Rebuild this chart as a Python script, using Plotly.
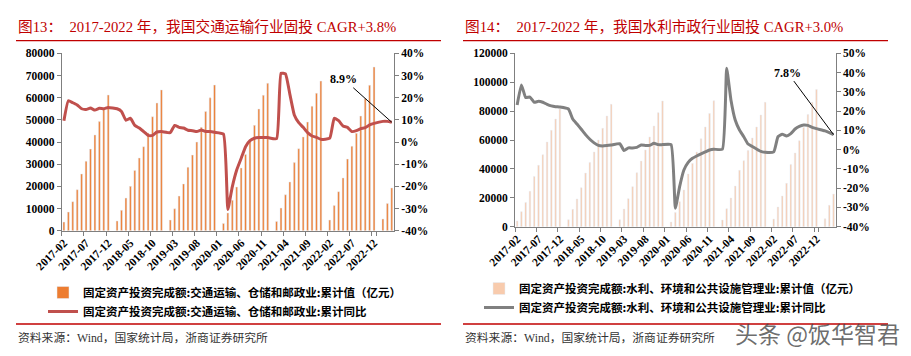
import plotly.graph_objects as go

# ---------------- data ----------------
months = []
for yr in range(2017, 2024):
    for m in range(1, 13):
        if (yr == 2017 and m < 2) or (yr == 2023 and m > 4):
            continue
        months.append(f"{yr}-{m:02d}")

x_tick_labels = ["2017-02", "2017-07", "2017-12", "2018-05", "2018-10", "2019-03",
                 "2019-08", "2020-01", "2020-06", "2020-11", "2021-04", "2021-09",
                 "2022-02", "2022-07", "2022-12"]

# Chart 13: transport, storage & postal FAI
transport_cum = (
    [3900, 8400, 13100, 18500, 25600, 31300, 36800, 43200, 49200, 54900, 61200]
    + [None, 4400, 9200, 14700, 20000, 27200, 32800, 37900, 44100, 51400, 57600, 63500]
    + [None, 4800, 9900, 15600, 21100, 28600, 34100, 40000, 46600, 53800, 59900, 65700]
    + [None, 3300, 8000, 13700, 19700, 28300, 34400, 40600, 47500, 54900, 61100, 66500]
    + [None, 4200, 10200, 16200, 22000, 30700, 37000, 42300, 49000, 56100, 62000, 67500]
    + [None, 4800, 11400, 17600, 23800, 32300, 38100, 43900, 51700, 59600, 65600, 73800]
    + [None, 5300, 12300, 19300]
)
transport_yoy = (
    [9.6, 18.6, 17.7, 16.7, 15.0, 14.7, 15.3, 14.4, 15.2, 15.0, 15.6]
    + [None, 15.0, 13.8, 9.8, 10.7, 7.5, 6.3, 4.7, 3.0, 3.0, 4.5, 4.7]
    + [None, 4.2, 7.5, 6.6, 6.3, 5.3, 5.1, 4.7, 5.4, 4.7, 4.7, 4.4]
    + [None, 3.6, -30.4, -20.2, -12.6, -7.4, -2.1, 0.6, 1.7, 2.0, 2.0, 2.0]
    + [None, 1.5, 31.0, 30.7, 21.5, 12.2, 8.7, 6.6, 4.2, 2.7, 2.1, 1.2]
    + [None, 1.7, 10.7, 9.6, 7.2, 6.6, 4.7, 5.1, 6.0, 6.5, 7.7, 8.4]
    + [None, 9.3, 9.3, 8.9]
)

# Chart 14: water conservancy, environment & public facilities FAI
water_cum = (
    [3900, 10400, 16800, 24500, 34800, 42500, 49800, 58600, 66700, 74500, 81400]
    + [None, 4800, 12000, 19200, 27000, 37100, 44500, 51700, 60000, 68100, 76600, 84700]
    + [None, 4800, 12200, 19400, 27700, 37400, 45400, 53100, 62100, 69700, 78900, 87000]
    + [None, 3200, 9900, 17300, 25400, 36500, 43800, 51700, 60900, 69000, 78400, 87200]
    + [None, 4600, 12500, 19800, 28100, 39000, 45700, 52800, 61400, 69000, 77300, 86100]
    + [None, 5300, 13600, 21200, 30000, 43100, 51000, 59500, 68700, 77700, 86100, 95000]
    + [None, 5500, 14800, 22600]
)
water_yoy = (
    [23.2, 33.6, 27.0, 27.3, 24.6, 25.1, 24.6, 23.5, 22.7, 22.3, 22.1]
    + [None, 21.1, 15.9, 13.3, 10.6, 7.8, 5.4, 3.5, 2.2, 1.9, 2.1, 2.4]
    + [None, 3.1, -0.5, 0.9, 0.9, 1.2, 2.4, 2.2, 2.2, 3.3, 2.6, 2.6]
    + [None, 2.6, -30.4, -19.2, -10.6, -6.6, -4.5, -3.3, -2.2, -1.2, -0.2, 0.2]
    + [None, 0.2, 42.2, 25.8, 15.4, 10.2, 6.7, 2.9, 1.6, 0.3, -0.9, -1.4]
    + [None, -1.2, 6.7, 8.0, 7.1, 8.3, 10.7, 12.1, 12.8, 12.6, 11.6, 10.9]
    + [None, 9.7, 8.8, 7.8]
)

left_pct_ticks = [-40, -30, -20, -10, 0, 10, 20, 30, 40]
left_pct_text = ["-40%", "-30%", "-20%", "-10%", "0%", "10%", "20%", "30%", "40%"]
right_pct_ticks = [-40, -30, -20, -10, 0, 10, 20, 30, 40, 50]
right_pct_text = ["-40%", "-30%", "-20%", "-10%", "0%", "10%", "20%", "30%", "40%", "50%"]

title_left = "图13：  2017-2022 年，我国交通运输行业固投 CAGR+3.8%"
title_right = "图14：  2017-2022 年，我国水利市政行业固投 CAGR+3.0%"
source_text = "资料来源：Wind，国家统计局，浙商证券研究所"
name_bar_left = "固定资产投资完成额:交通运输、仓储和邮政业:累计值（亿元）"
name_line_left = "固定资产投资完成额:交通运输、仓储和邮政业:累计同比"
name_bar_right = "固定资产投资完成额:水利、环境和公共设施管理业:累计值（亿元）"
name_line_right = "固定资产投资完成额:水利、环境和公共设施管理业:累计同比"
label_left = "8.9%"
label_right = "7.8%"
watermark = "头条 @饭华智君"

# ---------------- styling ----------------
# the page body has an 8px margin; lay out in page pixels and convert
OFF = 8
W, H = 911 - OFF, 356 - OFF
def px(x):
    return (x - OFF) / W
def py(y):
    return 1 - (y - OFF) / H

RED = "#C00000"
AX = "#7F7F7F"
SERIF = "Liberation Serif, Noto Sans CJK SC"
CJK = "Noto Sans CJK SC"
tickfont = dict(family=SERIF, size=11.5, color="black", weight="bold")

fig = go.Figure()
fig.add_trace(go.Bar(x=months, y=transport_cum, name=name_bar_left, marker_color="#ED7D31",
                     width=0.42, xaxis="x", yaxis="y", legend="legend"))
fig.add_trace(go.Scatter(x=months, y=transport_yoy, name=name_line_left, mode="lines",
                         line=dict(color="#C0504D", width=3, shape="spline", smoothing=0.4),
                         connectgaps=True, xaxis="x", yaxis="y2", legend="legend"))
fig.add_trace(go.Bar(x=months, y=water_cum, name=name_bar_right, marker_color="#F8CBAD",
                     width=0.36, xaxis="x2", yaxis="y3", legend="legend2"))
fig.add_trace(go.Scatter(x=months, y=water_yoy, name=name_line_right, mode="lines",
                         line=dict(color="#808080", width=3, shape="spline", smoothing=0.4),
                         connectgaps=True, xaxis="x2", yaxis="y4", legend="legend2"))

def xax(domain, anchor):
    return dict(domain=domain, anchor=anchor, type="category", range=[-0.5, len(months) - 0.5],
                tickmode="array", tickvals=x_tick_labels, ticktext=x_tick_labels,
                tickangle=-45, ticks="outside", tickson="boundaries", ticklen=4,
                tickcolor=AX, showline=True, linecolor=AX, linewidth=1, automargin=False,
                showgrid=False, zeroline=False, tickfont=tickfont)

def yax(domain, anchor, rng, dtick):
    return dict(domain=domain, anchor=anchor, range=rng, dtick=dtick, tickformat="d",
                ticks="outside", ticklen=4, tickcolor=AX, showline=True, linecolor=AX,
                linewidth=1, showgrid=False, zeroline=False, tickfont=tickfont,
                automargin=False)

def y2ax(overlay, anchor, rng, vals, text):
    return dict(overlaying=overlay, side="right", anchor=anchor, range=rng,
                tickmode="array", tickvals=vals, ticktext=text, automargin=False,
                ticks="outside", ticklen=4, tickcolor=AX, showline=True, linecolor=AX,
                linewidth=1, showgrid=False, zeroline=False, tickfont=tickfont)

legfont = dict(family=CJK, size=11.5, color="black", weight="bold")
fig.update_layout(
    width=W, height=H, margin=dict(l=0, r=0, t=0, b=0, autoexpand=False),
    paper_bgcolor="white", plot_bgcolor="white", showlegend=True,
    xaxis=xax([px(61.7), px(394)], "y"),
    yaxis=yax([py(230.7), py(53.3)], "x", [0, 80000], 10000),
    yaxis2=y2ax("y", "x", [-40, 40], left_pct_ticks, left_pct_text),
    xaxis2=xax([px(515), px(835.7)], "y3"),
    yaxis3=yax([py(226.7), py(53.3)], "x2", [0, 120000], 20000),
    yaxis4=y2ax("y3", "x2", [-40, 50], right_pct_ticks, right_pct_text),
    legend=dict(x=px(43), y=py(278), xanchor="left", yanchor="top",
                xref="container", yref="container",
                font=legfont, bgcolor="rgba(0,0,0,0)", tracegroupgap=0, itemwidth=30),
    legend2=dict(x=px(479), y=py(274), xanchor="left", yanchor="top",
                 xref="container", yref="container",
                 font=legfont, bgcolor="rgba(0,0,0,0)", tracegroupgap=0, itemwidth=30),
)

# titles, separators, source
for x0, x1, title in [(16, 441, title_left), (463, 888, title_right)]:
    fig.add_annotation(text=title, xref="paper", yref="paper", x=px(x0), y=py(26.7),
                       xanchor="left", yanchor="middle", showarrow=False,
                       font=dict(family=SERIF, size=14.7, color=RED))
    fig.add_annotation(text=source_text, xref="paper", yref="paper", x=px(x0), y=py(338),
                       xanchor="left", yanchor="middle", showarrow=False,
                       font=dict(family=SERIF, size=11.8, color="#333333"))
    for yy in (40.7, 324):
        fig.add_shape(type="line", xref="paper", yref="paper", x0=px(x0), x1=px(x1),
                      y0=py(yy), y1=py(yy), line=dict(color=RED, width=1.3))

# value callouts
fig.add_annotation(x=months[-1], y=transport_yoy[-1], xref="x", yref="y2", text=label_left,
                   showarrow=True, arrowhead=0, arrowwidth=1, arrowcolor="black",
                   axref="pixel", ayref="pixel", ax=-48, ay=-43,
                   xanchor="center", yanchor="middle",
                   font=dict(family=SERIF, size=12, color="black", weight="bold"))
fig.add_annotation(x=months[-1], y=water_yoy[-1], xref="x2", yref="y4", text=label_right,
                   showarrow=True, arrowhead=0, arrowwidth=1, arrowcolor="black",
                   axref="pixel", ayref="pixel", ax=-46, ay=-62,
                   xanchor="center", yanchor="middle",
                   font=dict(family=SERIF, size=12, color="black", weight="bold"))

fig.add_annotation(text=watermark, xref="paper", yref="paper", x=px(817), y=py(333),
                   xanchor="center", yanchor="middle", showarrow=False,
                   font=dict(family=CJK, size=23, color="rgba(70,70,70,0.8)"))

fig.write_html("out.html")
